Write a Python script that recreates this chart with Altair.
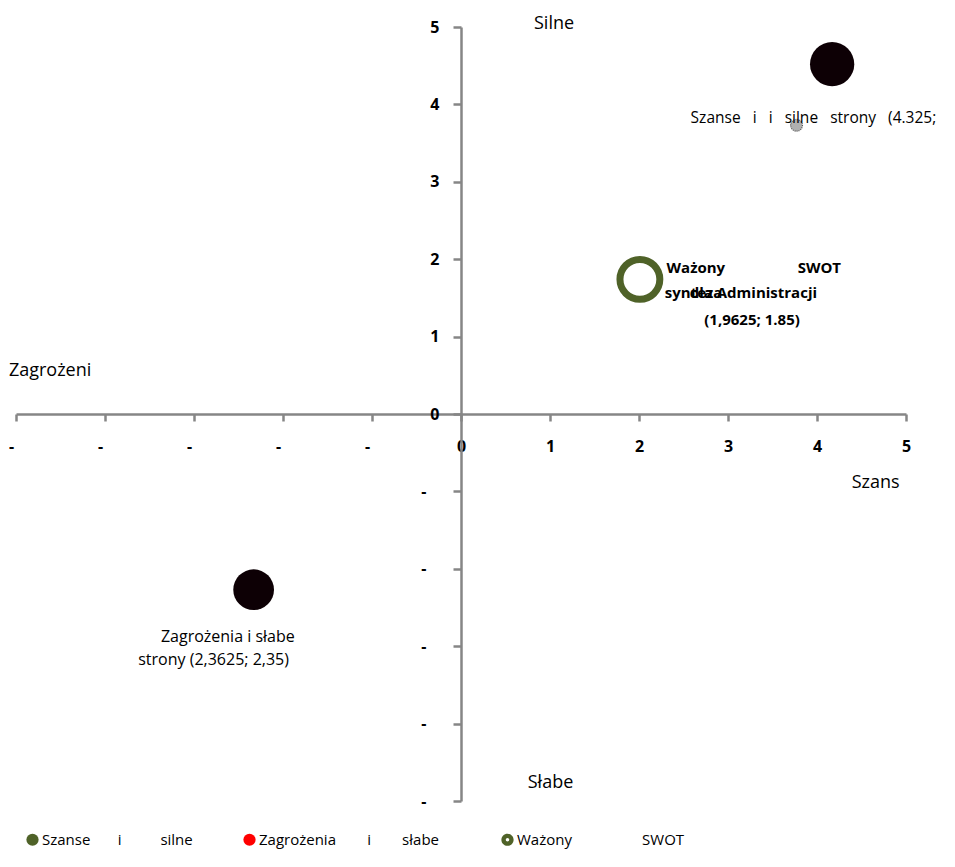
import altair as alt
import pandas as pd

NB = "\u00a0"
ZW = "\u200b"

# ---- data ----
series_names = [
    "Szanse" + NB * 7 + "i" + NB * 10 + "silne" + NB * 1 + ZW,
    "Zagrożenia" + NB * 8 + "i" + NB * 8 + "słabe" + NB * 4 + ZW,
    "Ważony" + NB * 18 + "SWOT",
]
pt_x = [4.17, -2.33, 2.01]
pt_y = [4.52, -2.27, 1.74]

small_x = [3.77]
small_y = [3.73]

quad_text = ["Silne", "Zagrożeni", "Szans", "Słabe"]
quad_x = [0.82, -5.08, 4.39, 0.75]
quad_y = [5.04, 0.56, -0.89, -4.77]

ann_c_text = ["Zagrożenia i słabe", "strony (2,3625; 2,35)"]
ann_c_x = [-2.62, -2.78]
ann_c_y = [-2.88, -3.18]

ann_l_text = ["Szanse" + NB * 3 + "i" + NB * 3 + "i" + NB * 3 + "silne" + NB * 3 + "strony" + NB * 3 + "(4.325;"]
ann_l_x = [2.58]
ann_l_y = [3.82]

bold_l_text = ["Ważony", "synteza", "dla Administracji"]
bold_l_x = [2.31, 2.29, 2.57]
bold_l_y = [1.89, 1.56, 1.56]
bold_r_text = ["SWOT"]
bold_r_x = [4.27]
bold_r_y = [1.89]
bold_c_text = ["(1,9625; 1.85)"]
bold_c_x = [3.27]
bold_c_y = [1.21]

tick_vals = list(range(-5, 6))

# ---- chart ----
AXC = "#868686"
FONT = "Open Sans"

x_axis = alt.Axis(
    values=tick_vals, title=None, grid=False, offset=-387,
    domainColor=AXC, domainWidth=2.5, tickColor=AXC, tickWidth=2.5, tickSize=7,
    labelExpr="datum.value < 0 ? '-' : datum.label",
    labelFont=FONT, labelFontWeight="bold", labelFontSize=16, labelColor="black",
    labelPadding=17, labelFlush=False, labelOverlap=False,
    labelOffset={"condition": {"test": "datum.value < 0", "value": -5}, "value": 0},
)
y_axis = alt.Axis(
    values=tick_vals, title=None, grid=False, offset=-445,
    domainColor=AXC, domainWidth=2.5, tickColor=AXC, tickWidth=2.5, tickSize=8,
    labelExpr="datum.value < 0 ? '-' : datum.label",
    labelFont=FONT, labelFontWeight="bold", labelFontSize=16, labelColor="black",
    labelFlush=False, labelOverlap=False,
    labelPadding={"condition": {"test": "datum.value < 0", "value": 27}, "value": 14},
)
xs = alt.Scale(domain=[-5, 5], nice=False, zero=False)
ys = alt.Scale(domain=[-5, 5], nice=False, zero=False)


def X():
    return alt.X("x:Q", scale=xs, axis=x_axis)


def Y():
    return alt.Y("y:Q", scale=ys, axis=y_axis)


pts = pd.DataFrame({"x": pt_x, "y": pt_y, "s": series_names})

ring_path = ("M-1,0A1,1,0,1,1,1,0A1,1,0,1,1,-1,0Z "
             "M-0.28,0A0.28,0.28,0,1,0,0.28,0A0.28,0.28,0,1,0,-0.28,0Z")

legend = alt.Legend(
    title=None, orient="none", legendX=9, legendY=805, direction="horizontal",
    columns=3, columnPadding=45, symbolOpacity=1, symbolSize=150,
    symbolStrokeWidth=0, labelFont=FONT, labelFontSize=15, labelColor="black",
    labelOffset=2, labelLimit=400,
)

carrier = alt.Chart(pts).mark_point(filled=True, opacity=0).encode(
    x=X(), y=Y(),
    color=alt.Color("s:N", scale=alt.Scale(domain=series_names,
                                           range=["#4f6228", "#ff0000", "#4f6228"]),
                    legend=legend),
    shape=alt.Shape("s:N", scale=alt.Scale(domain=series_names,
                                           range=["circle", "circle", ring_path]),
                    legend=legend),
)

big1 = alt.Chart(pts.iloc[[0]]).mark_circle(color="#0d0005", opacity=1, size=1960).encode(x=X(), y=Y())
big2 = alt.Chart(pts.iloc[[1]]).mark_circle(color="#0d0005", opacity=1, size=1660).encode(x=X(), y=Y())
ring = alt.Chart(pts.iloc[[2]]).mark_point(filled=False, color="#4f6228", strokeWidth=7,
                                          opacity=1, size=1590).encode(x=X(), y=Y())
small = alt.Chart(pd.DataFrame({"x": small_x, "y": small_y})).mark_point(
    filled=True, fill="#b0b0b0", stroke="#555555", strokeWidth=1.2, strokeDash=[1, 1],
    opacity=1, size=140).encode(x=X(), y=Y())


def text_layer(t, xv, yv, align, size, weight="normal"):
    df = pd.DataFrame({"x": xv, "y": yv, "t": t})
    return alt.Chart(df).mark_text(
        align=align, baseline="middle", font=FONT, fontSize=size,
        fontWeight=weight, color="black").encode(x=X(), y=Y(), text="t:N")


layers = [
    carrier, big1, big2, ring, small,
    text_layer(quad_text, quad_x, quad_y, "left", 18),
    text_layer(ann_c_text, ann_c_x, ann_c_y, "center", 16),
    text_layer(ann_l_text, ann_l_x, ann_l_y, "left", 15.5),
    text_layer(bold_l_text, bold_l_x, bold_l_y, "left", 15, "bold"),
    text_layer(bold_r_text, bold_r_x, bold_r_y, "right", 15, "bold"),
    text_layer(bold_c_text, bold_c_x, bold_c_y, "center", 15, "bold"),
]

chart = alt.layer(*layers).properties(
    width=890, height=774,
    padding={"left": 8, "top": 19, "right": 40, "bottom": 52},
    autosize=alt.AutoSizeParams(type="none"),
    background="white",
).configure_view(stroke=None)

chart.save("out.html", embed_options={"renderer": "svg", "actions": False})
